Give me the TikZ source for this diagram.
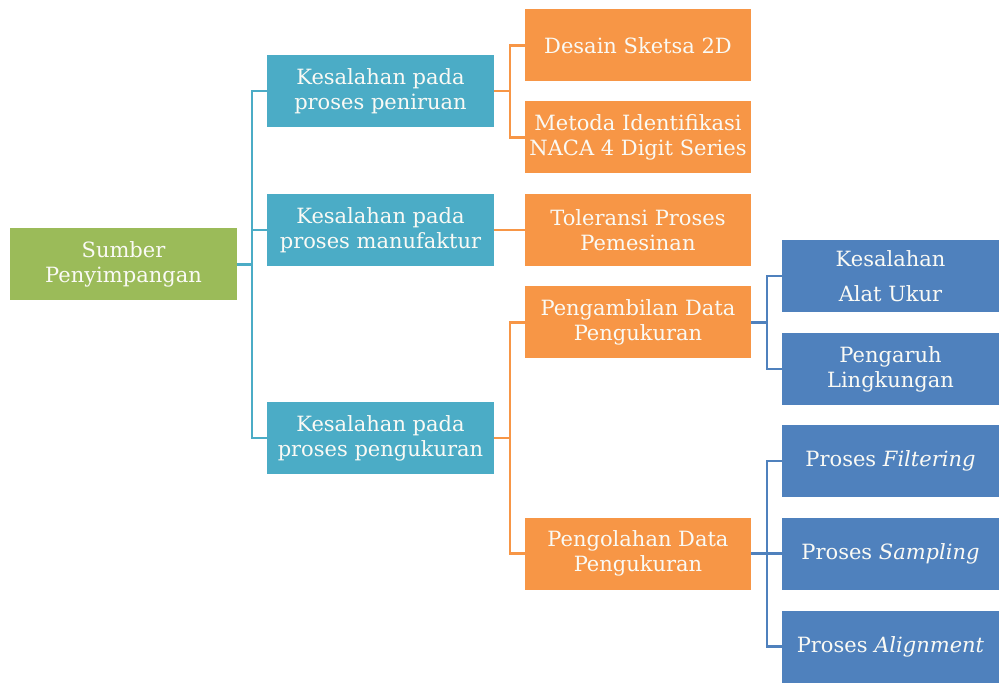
\documentclass[tikz,border=0pt]{standalone}
\usepackage{fontspec}
\setmainfont{DejaVu Serif}
\definecolor{cgreen}{HTML}{9BBB59}
\definecolor{cteal}{HTML}{4BACC6}
\definecolor{corange}{HTML}{F79646}
\definecolor{cblue}{HTML}{4F81BD}
\definecolor{ctext}{HTML}{FAFAF5}
\begin{document}
\begin{tikzpicture}[x=1pt,y=-1pt,
  box/.style={draw=none, minimum width=227, minimum height=72, text=ctext,
    align=center, inner sep=0, font=\fontsize{21}{25}\selectfont},
  gbox/.style={box, fill=cgreen},
  tbox/.style={box, fill=cteal},
  obox/.style={box, fill=corange, minimum width=226},
  bbox/.style={box, fill=cblue, minimum width=217},
  tline/.style={draw=cteal, line width=2.5},
  oline/.style={draw=corange, line width=2.5},
  bline/.style={draw=cblue, line width=2.5}]
\useasboundingbox (0,0) rectangle (999,684);
% root
\node[gbox] (g) at (123.5,264.5) {Sumber\\Penyimpangan};
% level 1
\node[tbox] (t1) at (380.5,91) {Kesalahan pada\\proses peniruan};
\node[tbox] (t2) at (380.5,230) {Kesalahan pada\\proses manufaktur};
\node[tbox] (t3) at (380.5,438) {Kesalahan pada\\proses pengukuran};
% level 2
\node[obox] (o1) at (638,45.5) {Desain Sketsa 2D};
\node[obox] (o2) at (638,137.5) {Metoda Identifikasi\\NACA 4 Digit Series};
\node[obox] (o3) at (638,230) {Toleransi Proses\\Pemesinan};
\node[obox] (o4) at (638,322.5) {Pengambilan Data\\Pengukuran};
\node[obox] (o5) at (638,553.5) {Pengolahan Data\\Pengukuran};
% level 3
\node[bbox, font=\fontsize{21}{35}\selectfont] (b1) at (890.5,276) {Kesalahan\\Alat Ukur};
\node[bbox] (b2) at (890.5,369) {Pengaruh\\Lingkungan};
\node[bbox] (b3) at (890.5,461) {Proses \textit{Filtering}};
\node[bbox] (b4) at (890.5,553.5) {Proses \textit{Sampling}};
\node[bbox] (b5) at (890.5,646.5) {Proses \textit{Alignment}};
% connectors level 1
\coordinate (j1) at (252,264.5);
\draw[tline] (g.east) -- (j1);
\draw[tline] (t1.west) -| (j1);
\draw[tline] (t3.west) -| (j1);
\draw[tline] (t2.west) -- (t2.west -| j1);
% connectors level 2
\coordinate (j2) at (510,91);
\draw[oline] (t1.east) -- (j2);
\draw[oline] (o1.west) -| (j2);
\draw[oline] (o2.west) -| (j2);
\draw[oline] (t2.east) -- (o3.west);
\coordinate (j3) at (510,438);
\draw[oline] (t3.east) -- (j3);
\draw[oline] (o4.west) -| (j3);
\draw[oline] (o5.west) -| (j3);
% connectors level 3
\coordinate (j4) at (767,322.5);
\draw[bline] (o4.east) -- (j4);
\draw[bline] (b1.west) -| (j4);
\draw[bline] (b2.west) -| (j4);
\coordinate (j5) at (767,553.5);
\draw[bline] (o5.east) -- (j5);
\draw[bline] (b3.west) -| (j5);
\draw[bline] (b5.west) -| (j5);
\draw[bline] (b4.west) -- (j5);
\end{tikzpicture}
\end{document}
